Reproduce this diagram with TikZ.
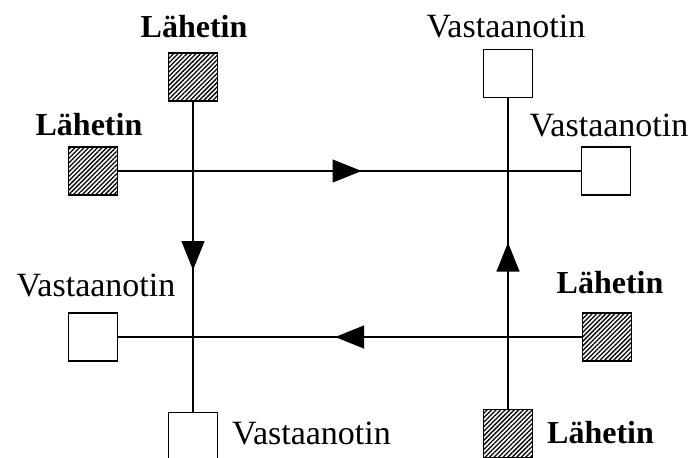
\documentclass[tikz,border=0pt]{standalone}
\usepackage{fontspec}
\setmainfont{Liberation Serif}
\usetikzlibrary{arrows.meta,patterns.meta,decorations.markings}
\begin{document}
\begin{tikzpicture}[x=1pt,y=-1pt,
  box/.style={draw,line width=1.5pt,minimum width=49pt,minimum height=48pt,inner sep=0pt},
  sender/.style={box,pattern={Lines[angle=45,distance=3.2pt,line width=1.3pt]}},
  receiver/.style={box,fill=white},
  lah/.style={font=\fontsize{32}{36}\selectfont\bfseries,inner sep=0pt},
  vas/.style={font=\fontsize{34}{38}\selectfont,inner sep=0pt},
  link/.style={line width=1.3pt},
  arr/.style={postaction={decorate},decoration={markings,
     mark=at position #1 with {\arrow{Triangle[length=29pt,width=23pt]}}}}
]
\useasboundingbox (0,0) rectangle (694,458);
\clip (0,0) rectangle (694,458);
% boxes
\node[sender]   (tl) at (193,77)   {};
\node[sender]   (l)  at (93,171)   {};
\node[receiver] (tr) at (508,73.5) {};
\node[receiver] (r)  at (606,171)  {};
\node[receiver] (lv) at (93,337)   {};
\node[sender]   (rl) at (607,337)  {};
\node[receiver] (bv) at (193,436.5){};
\node[sender]   (br) at (508,433.5){};
% labels
\node[lah] (tlt) at (194,27)  {Lähetin};
\node[lah] (lt)  at (89,125)  {Lähetin};
\node[vas] (trt) at (506,27)  {Vastaanotin};
\node[vas] (rt)  at (609,125) {Vastaanotin};
\node[vas] (lvt) at (96,285)  {Vastaanotin};
\node[lah] (rlt) at (610,283) {Lähetin};
\node[vas,anchor=west] (bvt) at (232,433) {Vastaanotin};
\node[lah,anchor=west] (brt) at (547,433) {Lähetin};
% connectors
\draw[link,arr=0.526] (l.east) -- (r.west);
\draw[link,arr=0.532] (rl.west) -- (lv.east);
\draw[link,arr=0.543] (tl.south) -- (bv.north);
\draw[link,arr=0.535] (br.north) -- (tr.south);
\end{tikzpicture}
\end{document}
